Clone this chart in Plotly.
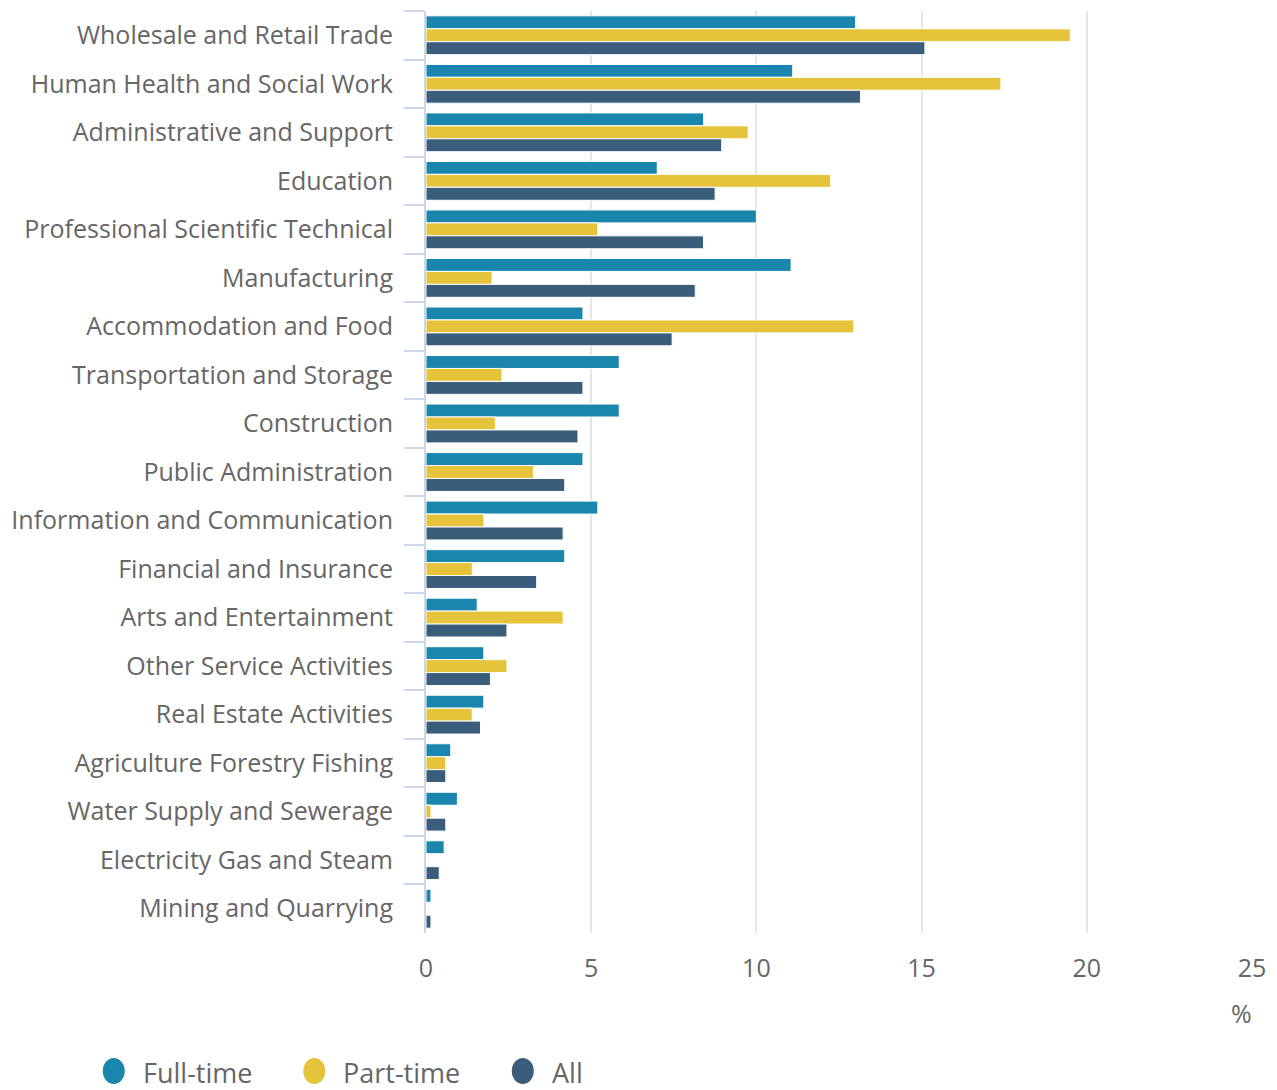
import plotly.graph_objects as go

categories = [
    "Wholesale and Retail Trade", "Human Health and Social Work",
    "Administrative and Support", "Education",
    "Professional Scientific Technical", "Manufacturing",
    "Accommodation and Food", "Transportation and Storage", "Construction",
    "Public Administration", "Information and Communication",
    "Financial and Insurance", "Arts and Entertainment",
    "Other Service Activities", "Real Estate Activities",
    "Agriculture Forestry Fishing", "Water Supply and Sewerage",
    "Electricity Gas and Steam", "Mining and Quarrying",
]
full_time = [13.0, 11.1, 8.4, 7.0, 10.0, 11.05, 4.75, 5.85, 5.85, 4.75, 5.2,
             4.2, 1.55, 1.75, 1.75, 0.75, 0.95, 0.55, 0.15]
part_time = [19.5, 17.4, 9.75, 12.25, 5.2, 2.0, 12.95, 2.3, 2.1, 3.25, 1.75,
             1.4, 4.15, 2.45, 1.4, 0.6, 0.15, 0.0, 0.0]
all_workers = [15.1, 13.15, 8.95, 8.75, 8.4, 8.15, 7.45, 4.75, 4.6, 4.2,
               4.15, 3.35, 2.45, 1.95, 1.65, 0.6, 0.6, 0.4, 0.15]

series = [("Full-time", full_time, "#1a86ad"),
          ("Part-time", part_time, "#e5c33a"),
          ("All", all_workers, "#3a5d7c")]

FONT = "Open Sans"
GREY = "#666666"

# page body adds an 8px margin, so the figure is a bit smaller than the window
W, H = 1261, 1082
L, R, T, B = 417, 16, 3, 157
PW, PH = W - L - R, H - T - B


def px_x(x):
    return (x - 8 - L) / PW


def px_y(y):
    return (T + PH - (y - 8)) / PH


fig = go.Figure()
for name, vals, col in series:
    fig.add_trace(go.Bar(
        y=categories, x=vals, name=name, orientation="h",
        marker=dict(color=col, line=dict(color="white", width=1)),
        showlegend=False,
    ))

# legend drawn by hand so the markers can be big circles
legend_x = [112, 313, 522]
for (name, vals, col), px in zip(series, legend_x):
    fig.add_shape(type="circle", xref="paper", yref="paper",
                  xsizemode="pixel", ysizemode="pixel",
                  xanchor=px_x(px), yanchor=px_y(1071),
                  x0=-11, x1=11, y0=-13, y1=13,
                  fillcolor=col, line=dict(width=0))
    fig.add_annotation(text=name, xref="paper", yref="paper",
                       x=px_x(px + 27), y=px_y(1072),
                       xanchor="left", yanchor="middle", showarrow=False,
                       font=dict(family=FONT, size=27, color=GREY))

fig.add_annotation(text="%", xref="paper", yref="paper",
                   x=px_x(1242), y=px_y(1013),
                   xanchor="center", yanchor="middle", showarrow=False,
                   font=dict(family=FONT, size=25, color=GREY))

fig.update_layout(
    width=W, height=H,
    margin=dict(l=L, r=R, t=T, b=B),
    plot_bgcolor="white", paper_bgcolor="white",
    barmode="group", bargap=0.2, bargroupgap=0,
    font=dict(family=FONT, size=25, color=GREY),
)
fig.update_xaxes(
    range=[0, 25], dtick=5, showgrid=True, gridcolor="#e6e6e6", gridwidth=1.5,
    zeroline=False, showline=False, ticks="",
    tickfont=dict(family=FONT, size=25, color=GREY), ticklabelstandoff=18,
)
fig.update_yaxes(
    autorange="reversed", showline=True, linecolor="#ccd6eb", linewidth=2,
    ticks="outside", tickson="boundaries", ticklen=20, tickcolor="#ccd6eb",
    tickwidth=2, showgrid=False,
    tickfont=dict(family=FONT, size=25, color=GREY), ticklabelstandoff=26,
)

fig.write_html("out.html")
